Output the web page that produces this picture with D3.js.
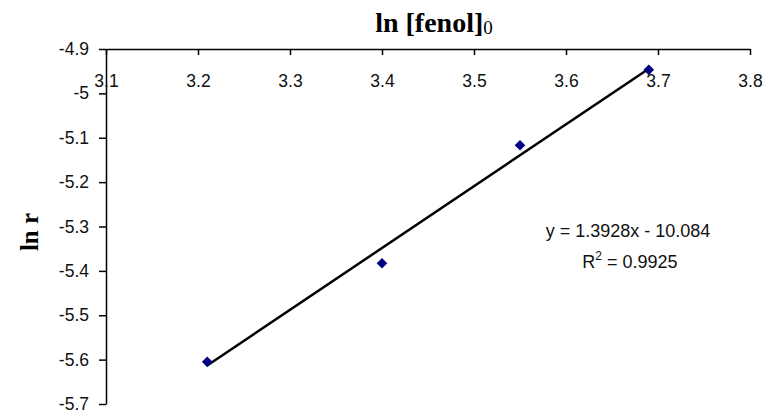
<!DOCTYPE html>
<html><head><meta charset="utf-8">
<script src="https://cdn.jsdelivr.net/npm/d3@7"></script>
<style>body{margin:0;background:#fff}svg{display:block}</style>
</head><body>
<svg id="c" width="766" height="412"></svg>
<script>
const xValues = [3.21, 3.40, 3.55, 3.69];
const yValues = [-5.605, -5.383, -5.117, -4.947];
const xTicks = [3.1, 3.2, 3.3, 3.4, 3.5, 3.6, 3.7, 3.8];
const yTicks = [-4.9, -5, -5.1, -5.2, -5.3, -5.4, -5.5, -5.6, -5.7];
const slope = 1.3928, intercept = -10.084;
const eqLines = ["y = 1.3928x - 10.084", "R2 = 0.9925"];

const svg = d3.select("#c");
const x = d3.scaleLinear().domain([3.1, 3.8]).range([106, 750]);
const y = d3.scaleLinear().domain([-4.9, -5.7]).range([49, 404]);
const sans = "Liberation Sans, Arial, sans-serif";
const serif = "Liberation Serif, Times New Roman, serif";
const fmt = d => (d === -5 ? "-5" : d3.format(".1f")(d).replace("\u2212", "-"));

// top x axis: ticks down, labels below
const xg = svg.append("g").attr("transform", "translate(0,49)")
  .call(d3.axisBottom(x).tickValues(xTicks).tickFormat(fmt).tickSizeInner(6).tickSizeOuter(0).tickPadding(20));
xg.select(".domain").attr("stroke", "#000").attr("stroke-width", 1.5);
xg.selectAll(".tick line").attr("stroke", "#000").attr("stroke-width", 1.5);
xg.selectAll("text").attr("font-family", sans).attr("font-size", 17.5).attr("fill", "#111");

const yg = svg.append("g").attr("transform", "translate(106,0)")
  .call(d3.axisLeft(y).tickValues(yTicks).tickFormat(fmt).tickSizeInner(7).tickSizeOuter(0).tickPadding(10));
yg.select(".domain").attr("stroke", "#000").attr("stroke-width", 1.5);
yg.selectAll(".tick line").attr("stroke", "#000").attr("stroke-width", 1.5);
yg.selectAll("text").attr("font-family", sans).attr("font-size", 17.5).attr("fill", "#111");

// trend line
const x0 = d3.min(xValues), x1 = d3.max(xValues);
svg.append("line")
  .attr("x1", x(x0)).attr("y1", y(slope * x0 + intercept))
  .attr("x2", x(x1)).attr("y2", y(slope * x1 + intercept))
  .attr("stroke", "#000").attr("stroke-width", 2.5);

// markers (small diamonds)
svg.selectAll("path.pt").data(xValues).enter().append("path")
  .attr("class", "pt")
  .attr("d", d3.symbol().type(d3.symbolSquare).size(56))
  .attr("transform", (d, i) => `translate(${x(d)},${y(yValues[i])}) rotate(45)`)
  .attr("fill", "#000080");

// title
const t = svg.append("text").attr("x", 434).attr("y", 32).attr("text-anchor", "middle")
  .attr("font-family", serif).attr("font-weight", "bold").attr("font-size", 28).attr("fill", "#000");
t.append("tspan").text("ln [fenol]");
t.append("tspan").text("0").attr("font-size", 19).attr("font-weight", "normal").attr("dy", 2);

// y label
svg.append("text").attr("transform", "translate(38,232) rotate(-90)").attr("text-anchor", "middle")
  .attr("font-family", serif).attr("font-weight", "bold").attr("font-size", 25).attr("fill", "#000")
  .text("ln r");

// equation
svg.append("text").attr("x", 628).attr("y", 237).attr("text-anchor", "middle")
  .attr("font-family", sans).attr("font-size", 18).attr("fill", "#111")
  .text(eqLines[0]);
const r = svg.append("text").attr("x", 630).attr("y", 268).attr("text-anchor", "middle")
  .attr("font-family", sans).attr("font-size", 18).attr("fill", "#111");
r.append("tspan").text("R");
r.append("tspan").text("2").attr("font-size", 12).attr("dy", -8);
r.append("tspan").text(" = 0.9925").attr("dy", 8);
</script>
</body></html>
